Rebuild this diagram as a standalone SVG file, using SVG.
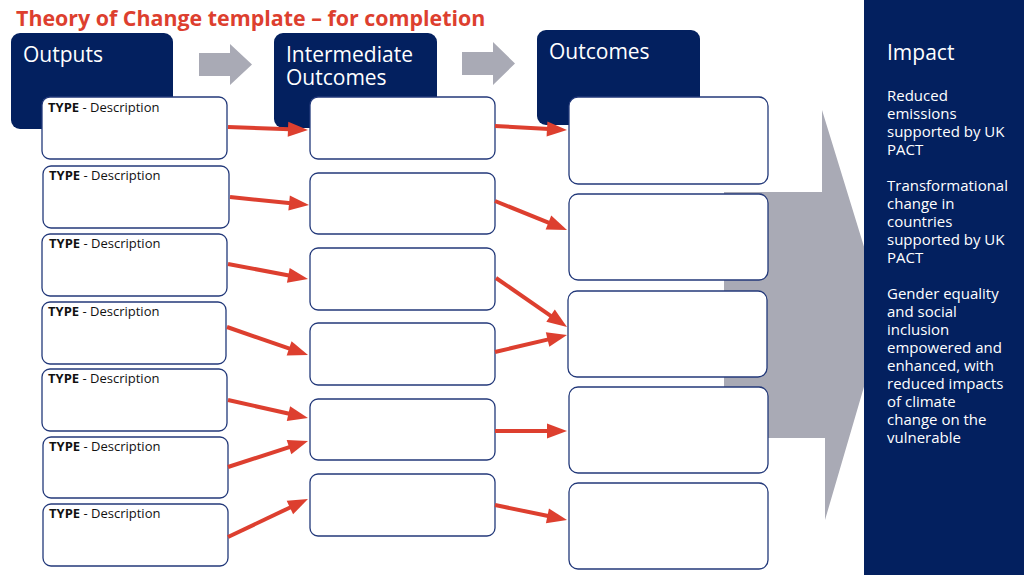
<svg xmlns="http://www.w3.org/2000/svg" width="1024" height="575" viewBox="0 0 1024 575">
<style>
.hdr{fill:#03205f}
.hdrt{font-family:"Open Sans","Noto Sans",sans-serif;font-size:21px;fill:#ffffff}
.box{fill:#ffffff;stroke:#23397a;stroke-width:1.3}
.typ{font-family:"Open Sans","Noto Sans",sans-serif;font-size:13px;fill:#111111}
.typ .b{font-weight:bold}
.imp{font-family:"Open Sans","Noto Sans",sans-serif;font-size:15px;fill:#ffffff}
.grey{fill:#a9aab5}
.con line{stroke:#dd3f2f;stroke-width:4;marker-end:url(#ah)}
</style>
<defs>
<marker id="ah" markerUnits="userSpaceOnUse" markerWidth="20" markerHeight="15" refX="2" refY="7.5" orient="auto" overflow="visible">
<path d="M0,0 L20,7.5 L0,15 z" fill="#dd3f2f"/>
</marker>
</defs>
<rect width="1024" height="575" fill="#ffffff"/>

<!-- big grey arrow -->
<polygon class="grey" points="724,192 822,192 822,110 885,315 825,520 825,438 724,438"/>

<!-- impact panel -->
<g id="impact">
<rect x="864" y="0" width="160" height="575" class="hdr"/>
<text x="887" y="60" class="hdrt">Impact</text>
<text class="imp">
<tspan x="887" y="101">Reduced</tspan>
<tspan x="887" y="119">emissions</tspan>
<tspan x="887" y="137">supported by UK</tspan>
<tspan x="887" y="155">PACT</tspan>
<tspan x="887" y="191">Transformational</tspan>
<tspan x="887" y="209">change in</tspan>
<tspan x="887" y="227">countries</tspan>
<tspan x="887" y="245">supported by UK</tspan>
<tspan x="887" y="263">PACT</tspan>
<tspan x="887" y="299">Gender equality</tspan>
<tspan x="887" y="317">and social</tspan>
<tspan x="887" y="335">inclusion</tspan>
<tspan x="887" y="353">empowered and</tspan>
<tspan x="887" y="371">enhanced, with</tspan>
<tspan x="887" y="389">reduced impacts</tspan>
<tspan x="887" y="407">of climate</tspan>
<tspan x="887" y="425">change on the</tspan>
<tspan x="887" y="443">vulnerable</tspan>
</text>
</g>

<!-- title -->
<text x="16" y="26" font-family="'Open Sans','Noto Sans',sans-serif" font-size="21.4" font-weight="bold" fill="#dd3f2f">Theory of Change template – for completion</text>

<!-- small grey arrows -->
<polygon class="grey" points="199,53 230,53 230,44 252,64.5 230,85 230,76 199,76"/>
<polygon class="grey" points="462,52 493,52 493,42 515,63.5 493,85 493,75 462,75"/>

<!-- headers -->
<g id="hdr-outputs">
<rect x="11" y="33" width="162" height="96" rx="9" class="hdr"/>
<text x="23" y="62" class="hdrt">Outputs</text>
</g>
<g id="hdr-intermediate">
<rect x="274" y="33" width="163" height="95" rx="9" class="hdr"/>
<text x="286" y="62" class="hdrt" font-size="20.5">Intermediate</text>
<text x="286" y="85" class="hdrt" font-size="20.5">Outcomes</text>
</g>
<g id="hdr-outcomes">
<rect x="537" y="30" width="163" height="95" rx="9" class="hdr"/>
<text x="549" y="59" class="hdrt">Outcomes</text>
</g>

<!-- outputs -->
<g id="out1"><rect x="42" y="97" width="185" height="62" rx="8" class="box"/><text x="48" y="112" class="typ"><tspan class="b">TYPE</tspan> - Description</text></g>
<g id="out2"><rect x="43" y="166" width="186" height="62" rx="8" class="box"/><text x="49" y="180" class="typ"><tspan class="b">TYPE</tspan> - Description</text></g>
<g id="out3"><rect x="42" y="234" width="185" height="62" rx="8" class="box"/><text x="49" y="248" class="typ"><tspan class="b">TYPE</tspan> - Description</text></g>
<g id="out4"><rect x="42" y="302" width="184" height="62" rx="8" class="box"/><text x="48" y="316" class="typ"><tspan class="b">TYPE</tspan> - Description</text></g>
<g id="out5"><rect x="42" y="369" width="185" height="62" rx="8" class="box"/><text x="48" y="383" class="typ"><tspan class="b">TYPE</tspan> - Description</text></g>
<g id="out6"><rect x="43" y="437" width="185" height="61" rx="8" class="box"/><text x="49" y="451" class="typ"><tspan class="b">TYPE</tspan> - Description</text></g>
<g id="out7"><rect x="43" y="504" width="185" height="62" rx="8" class="box"/><text x="49" y="518" class="typ"><tspan class="b">TYPE</tspan> - Description</text></g>

<!-- intermediate -->
<g id="int1"><rect x="310" y="97" width="185" height="62" rx="8" class="box"/></g>
<g id="int2"><rect x="310" y="173" width="185" height="61" rx="8" class="box"/></g>
<g id="int3"><rect x="310" y="248" width="185" height="62" rx="8" class="box"/></g>
<g id="int4"><rect x="310" y="323" width="185" height="62" rx="8" class="box"/></g>
<g id="int5"><rect x="310" y="399" width="185" height="61" rx="8" class="box"/></g>
<g id="int6"><rect x="310" y="474" width="185" height="62" rx="8" class="box"/></g>

<!-- outcomes -->
<g id="oc1"><rect x="569" y="97" width="199" height="87" rx="9" class="box"/></g>
<g id="oc2"><rect x="569" y="194" width="199" height="86" rx="9" class="box"/></g>
<g id="oc3"><rect x="568" y="291" width="199" height="86" rx="9" class="box"/></g>
<g id="oc4"><rect x="569" y="387" width="199" height="86" rx="9" class="box"/></g>
<g id="oc5"><rect x="569" y="483" width="199" height="86" rx="9" class="box"/></g>

<!-- connectors -->
<g id="connectors" class="con">
<line x1="228" y1="127" x2="290" y2="129.3"/>
<line x1="230" y1="197" x2="291.1" y2="203.2"/>
<line x1="228" y1="264" x2="290.3" y2="275.7"/>
<line x1="227" y1="327" x2="291" y2="349.1"/>
<line x1="228" y1="400" x2="290.4" y2="414"/>
<line x1="228" y1="467" x2="290.9" y2="446.6"/>
<line x1="228" y1="537" x2="291.7" y2="506.7"/>
<line x1="495" y1="126" x2="549" y2="129"/>
<line x1="495" y1="201" x2="550.3" y2="223.3"/>
<line x1="496" y1="278" x2="552.2" y2="316.8"/>
<line x1="495" y1="352" x2="549.5" y2="339.1"/>
<line x1="495" y1="431" x2="549" y2="431"/>
<line x1="495" y1="505" x2="549.4" y2="516.3"/>
</g>
</svg>
